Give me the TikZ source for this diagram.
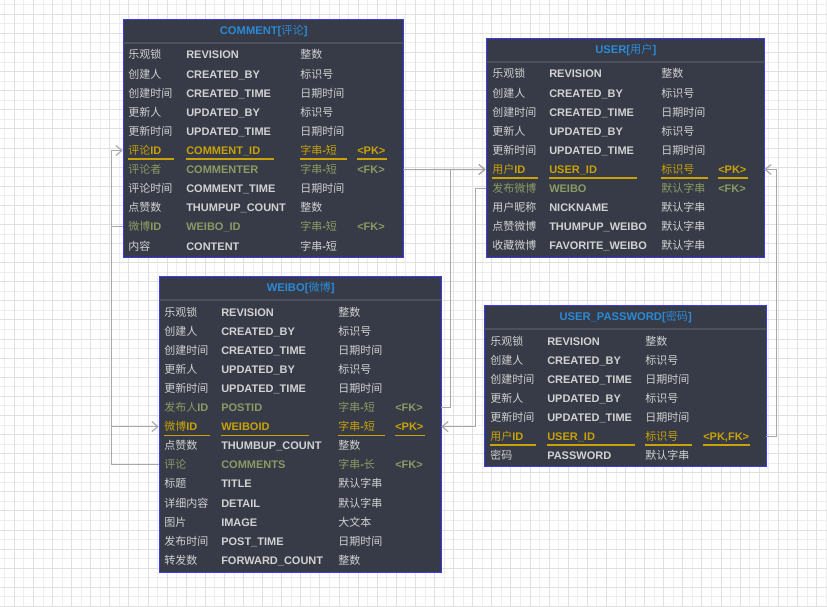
\documentclass[tikz,border=0pt]{standalone}
\usepackage{fontspec}
\setmainfont{Liberation Sans}
\newfontfamily\cjk{Noto Sans CJK SC}
\usetikzlibrary{arrows.meta}
\definecolor{tblbg}{HTML}{363B47}
\definecolor{tblborder}{HTML}{3A3AF2}
\definecolor{ttl}{HTML}{2B8AD6}
\definecolor{txt}{HTML}{D2D2D2}
\definecolor{pkc}{HTML}{C9A208}
\definecolor{fkc}{HTML}{8C9A63}
\definecolor{sepc}{HTML}{4A505C}
\definecolor{connc}{HTML}{A8A8A8}
\definecolor{gmaj}{HTML}{E0E0E0}
\definecolor{gmin}{HTML}{EEEEEE}
\newcommand\zh[1]{{\cjk\mdseries #1}}
\tikzset{
  tablebox/.style={draw=tblborder, fill=tblbg, line width=1.1pt, inner sep=0pt},
  sepline/.style={draw=sepc, line width=0.9pt},
  titletext/.style={inner sep=0pt, text=ttl, font=\fontsize{8.4}{10}\selectfont\bfseries},
  rowbox/.style={inner sep=0pt, minimum height=14.3pt},
  cell/.style={anchor=base west, inner sep=0pt, text=txt, font=\fontsize{8.25}{10}\selectfont\bfseries},
  normrow/.style={},
  pkrow/.style={text=pkc},
  fkrow/.style={text=fkc},
  pkul/.style={draw=pkc, line width=0.8pt},
  conn/.style={draw=connc, line width=0.85pt, -{Straight Barb[length=4.5pt,width=7.5pt]}},
  connplain/.style={draw=connc, line width=0.85pt},
  gridmin/.style={draw=gmin, line width=0.75pt},
  gridmaj/.style={draw=gmaj, line width=0.75pt}
}
\newcommand\tbl[6]{%
  \node[tablebox, anchor=north west, minimum width=#4*0.75pt, minimum height=#5*0.75pt] (#1) at (#2,#3) {};
  \draw[sepline] ([yshift=-18pt]#1.north west) -- ([yshift=-18pt]#1.north east);
  \node[titletext] (#1-t) at ([yshift=-9pt]#1.north) {#6};
}
\newcommand\trow[7]{%
  \pgfmathsetmacro\ry{\ty+36+19.1*(#2-1)}
  \node[rowbox, minimum width=\tw*0.75pt] (#1#2) at (\tx+\tw/2,\ry) {};
  \node[cell,#7] (#1#2a) at (\tx+\ca,\ry+4) {#3};
  \node[cell,#7] (#1#2b) at (\tx+\cb,\ry+4) {#4};
  \node[cell,#7] (#1#2c) at (\tx+\cc,\ry+4) {#5};
  \node[cell,#7] (#1#2d) at (\tx+\cd,\ry+4) {#6};
}
\newcommand\pkline[1]{%
  \draw[pkul] (\tx+\ca,\ry+8.5) -- ++(46,0);
  \draw[pkul] (\tx+\cb,\ry+8.5) -- ++(88,0);
  \draw[pkul] (\tx+\cc,\ry+8.5) -- ++(47,0);
  \draw[pkul] (\tx+\cd,\ry+8.5) -- ++(#1,0);
}
\newcommand\stdrows[1]{%
  \trow{#1}{1}{\zh{乐观锁}}{REVISION}{\zh{整数}}{}{normrow}
  \trow{#1}{2}{\zh{创建人}}{CREATED\_BY}{\zh{标识号}}{}{normrow}
  \trow{#1}{3}{\zh{创建时间}}{CREATED\_TIME}{\zh{日期时间}}{}{normrow}
  \trow{#1}{4}{\zh{更新人}}{UPDATED\_BY}{\zh{标识号}}{}{normrow}
  \trow{#1}{5}{\zh{更新时间}}{UPDATED\_TIME}{\zh{日期时间}}{}{normrow}
}
\begin{document}
\begin{tikzpicture}[x=0.75pt,y=-0.75pt]
\useasboundingbox (0,0) rectangle (827,606);
\fill[white] (0,0) rectangle (827,606);
% grid
\foreach \k in {0,...,43} {
  \draw[gridmin] (4.8+\k*19.1,0) -- (4.8+\k*19.1,606);
}
\foreach \k in {0,...,31} {
  \draw[gridmin] (0,4.8+\k*19.1) -- (827,4.8+\k*19.1);
}
\foreach \k in {0,...,42} {
  \draw[gridmaj] (14.35+\k*19.1,0) -- (14.35+\k*19.1,606);
}
\foreach \k in {0,...,31} {
  \draw[gridmaj] (0,14.35+\k*19.1) -- (827,14.35+\k*19.1);
}

% COMMENT
\tbl{comment}{123}{19}{280}{238}{COMMENT[\zh{评论}]}
\def\tx{123}\def\ty{19}\def\tw{280}\def\ca{5}\def\cb{63}\def\cc{177}\def\cd{234}
\stdrows{cm}
\trow{cm}{6}{\zh{评论}ID}{COMMENT\_ID}{\zh{字串}-\zh{短}}{<PK>}{pkrow}
\pkline{30}
\trow{cm}{7}{\zh{评论者}}{COMMENTER}{\zh{字串}-\zh{短}}{<FK>}{fkrow}
\trow{cm}{8}{\zh{评论时间}}{COMMENT\_TIME}{\zh{日期时间}}{}{normrow}
\trow{cm}{9}{\zh{点赞数}}{THUMPUP\_COUNT}{\zh{整数}}{}{normrow}
\trow{cm}{10}{\zh{微博}ID}{WEIBO\_ID}{\zh{字串}-\zh{短}}{<FK>}{fkrow}
\trow{cm}{11}{\zh{内容}}{CONTENT}{\zh{字串}-\zh{短}}{}{normrow}

% WEIBO
\tbl{weibo}{159}{276}{282}{296}{WEIBO[\zh{微博}]}
\def\tx{159}\def\ty{276}\def\tw{282}\def\ca{5}\def\cb{62}\def\cc{179}\def\cd{236}
\stdrows{wb}
\trow{wb}{6}{\zh{发布人}ID}{POSTID}{\zh{字串}-\zh{短}}{<FK>}{fkrow}
\trow{wb}{7}{\zh{微博}ID}{WEIBOID}{\zh{字串}-\zh{短}}{<PK>}{pkrow}
\pkline{30}
\trow{wb}{8}{\zh{点赞数}}{THUMBUP\_COUNT}{\zh{整数}}{}{normrow}
\trow{wb}{9}{\zh{评论}}{COMMENTS}{\zh{字串}-\zh{长}}{<FK>}{fkrow}
\trow{wb}{10}{\zh{标题}}{TITLE}{\zh{默认字串}}{}{normrow}
\trow{wb}{11}{\zh{详细内容}}{DETAIL}{\zh{默认字串}}{}{normrow}
\trow{wb}{12}{\zh{图片}}{IMAGE}{\zh{大文本}}{}{normrow}
\trow{wb}{13}{\zh{发布时间}}{POST\_TIME}{\zh{日期时间}}{}{normrow}
\trow{wb}{14}{\zh{转发数}}{FORWARD\_COUNT}{\zh{整数}}{}{normrow}

% USER
\tbl{user}{486}{38}{278}{219}{USER[\zh{用户}]}
\def\tx{486}\def\ty{38}\def\tw{278}\def\ca{6}\def\cb{63}\def\cc{175}\def\cd{232}
\stdrows{us}
\trow{us}{6}{\zh{用户}ID}{USER\_ID}{\zh{标识号}}{<PK>}{pkrow}
\pkline{30}
\trow{us}{7}{\zh{发布微博}}{WEIBO}{\zh{默认字串}}{<FK>}{fkrow}
\trow{us}{8}{\zh{用户昵称}}{NICKNAME}{\zh{默认字串}}{}{normrow}
\trow{us}{9}{\zh{点赞微博}}{THUMPUP\_WEIBO}{\zh{默认字串}}{}{normrow}
\trow{us}{10}{\zh{收藏微博}}{FAVORITE\_WEIBO}{\zh{默认字串}}{}{normrow}

% USER_PASSWORD
\tbl{userpw}{484}{305}{282}{161}{USER\_PASSWORD[\zh{密码}]}
\def\tx{484}\def\ty{305}\def\tw{282}\def\ca{6}\def\cb{63}\def\cc{161}\def\cd{219}
\stdrows{up}
\trow{up}{6}{\zh{用户}ID}{USER\_ID}{\zh{标识号}}{<PK,FK>}{pkrow}
\pkline{47}
\trow{up}{7}{\zh{密码}}{PASSWORD}{\zh{默认字串}}{}{normrow}

% connectors
\draw[conn] (cm7.east) -- (us6.west);
\draw[conn] (wb6.east) -- ++(9,0) |- (us6.west);
\draw[conn] (us7.west) -- ++(-10,0) |- (wb7.east);
\draw[conn] (cm10.west) -- ++(-11,0) |- (wb7.west);
\draw[conn] (wb9.west) -- ++(-47,0) |- (cm6.west);
\draw[conn] (up6.east) -- ++(10,0) |- (us6.east);
\end{tikzpicture}
\end{document}
